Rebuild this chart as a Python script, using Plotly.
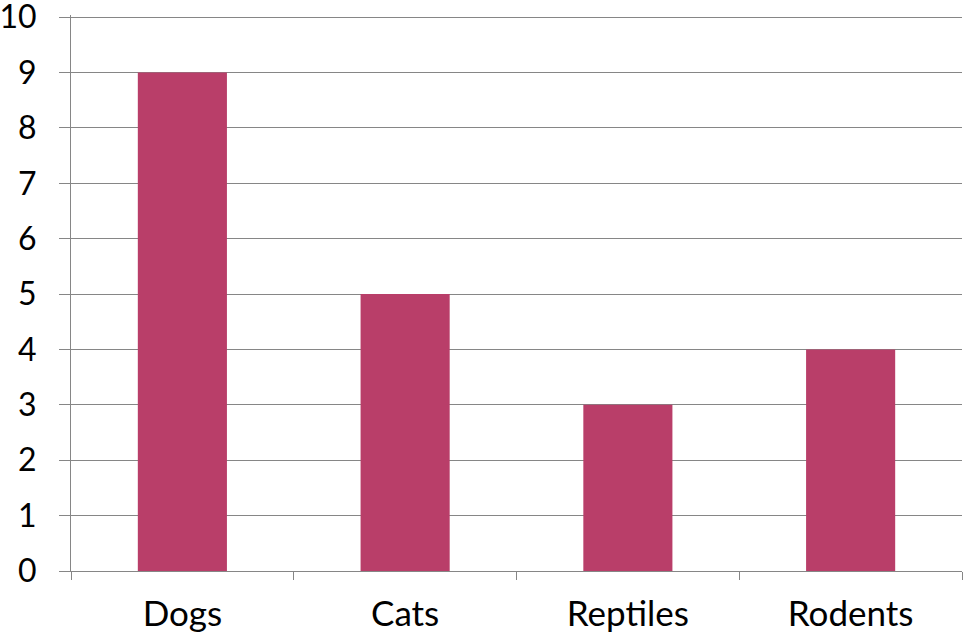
import plotly.graph_objects as go

categories = ["Dogs", "Cats", "Reptiles", "Rodents"]
values = [9, 5, 3, 4]
y_ticks = list(range(0, 11))

fig = go.Figure(go.Bar(x=categories, y=values, marker=dict(color="#B93E69", line=dict(width=0)), width=0.4))

fig.update_layout(
    width=963, height=637,
    margin=dict(l=71, r=1, t=15, b=66),
    paper_bgcolor="white", plot_bgcolor="white",
    showlegend=False,
    font=dict(family="Lato", color="black"),
)
fig.update_xaxes(
    showgrid=False, showline=True, linecolor="#868686", linewidth=1,
    ticks="outside", tickson="boundaries", ticklen=8, tickcolor="#868686",
    tickfont=dict(size=35), range=[-0.5, 3.5], automargin=False,
    ticklabelstandoff=12,
)
fig.update_yaxes(
    range=[0, 10.04], tickvals=y_ticks, showgrid=True, gridcolor="#868686", gridwidth=1,
    showline=True, linecolor="#868686", linewidth=1,
    ticks="outside", ticklen=11, tickcolor="#868686",
    tickfont=dict(size=32), ticklabelstandoff=16, zeroline=False, automargin=False,
    ticklabeloverflow="allow",
)
fig.write_html(
    "out.html",
    config={"displayModeBar": False},
    post_script="document.body.style.margin='0';document.body.style.overflow='hidden';",
)
